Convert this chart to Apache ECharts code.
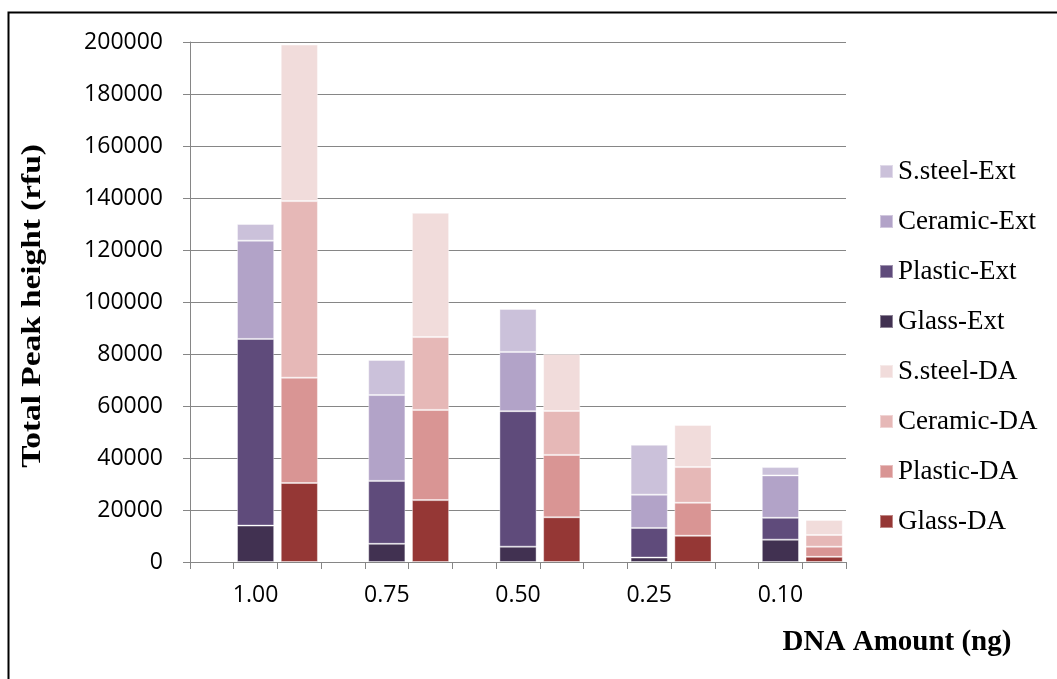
<!DOCTYPE html>
<html>
<head>
<meta charset="utf-8">
<script src="https://cdn.jsdelivr.net/npm/echarts@6/dist/echarts.min.js"></script>
<style>
html,body{margin:0;padding:0;background:#fff;}
#chart{width:1057px;height:679px;}
</style>
</head>
<body>
<div id="chart"></div>
<script>
// Category slots (blank slot, Ext bar, DA bar per DNA amount)
var categories = ['', '1.00', '', '', '0.75', '', '', '0.50', '', '', '0.25', '', '', '0.10', ''];
var dnaAmounts = ['1.00', '0.75', '0.50', '0.25', '0.10'];
var extSlots = [1, 4, 7, 10, 13];
var daSlots = [2, 5, 8, 11, 14];
var yTicks = [0, 20000, 40000, 60000, 80000, 100000, 120000, 140000, 160000, 180000, 200000];

// Values per DNA amount (1.00, 0.75, 0.50, 0.25, 0.10)
var glassExt   = [14000, 7000, 5900, 1700, 8600];
var plasticExt = [71800, 24200, 52100, 11400, 8400];
var ceramicExt = [37800, 33000, 22800, 12800, 16300];
var steelExt   = [6400, 13500, 16500, 19200, 3200];
var glassDA    = [30400, 23800, 17200, 10100, 2000];
var plasticDA  = [40500, 34700, 24000, 12700, 3900];
var ceramicDA  = [67900, 28000, 16900, 13700, 4500];
var steelDA    = [60200, 47800, 21900, 16200, 5800];

function place(values, slots) {
  var arr = categories.map(function () { return '-'; });
  slots.forEach(function (s, i) { arr[s] = values[i]; });
  return arr;
}

var seriesDefs = [
  {name: 'Glass-Ext', vals: glassExt, slots: extSlots, color: '#413151'},
  {name: 'Plastic-Ext', vals: plasticExt, slots: extSlots, color: '#5F4B7B'},
  {name: 'Ceramic-Ext', vals: ceramicExt, slots: extSlots, color: '#B2A3C8'},
  {name: 'S.steel-Ext', vals: steelExt, slots: extSlots, color: '#CBC1DA'},
  {name: 'Glass-DA', vals: glassDA, slots: daSlots, color: '#953735'},
  {name: 'Plastic-DA', vals: plasticDA, slots: daSlots, color: '#D99594'},
  {name: 'Ceramic-DA', vals: ceramicDA, slots: daSlots, color: '#E6B8B7'},
  {name: 'S.steel-DA', vals: steelDA, slots: daSlots, color: '#F1DCDB'}
];

var series = seriesDefs.map(function (d) {
  return {
    name: d.name,
    type: 'bar',
    stack: 'total',
    data: place(d.vals, d.slots),
    barCategoryGap: '15%',
    itemStyle: {color: d.color, borderColor: 'rgba(255,255,255,0.4)', borderWidth: 1},
    emphasis: {disabled: true}
  };
});

var chart = echarts.init(document.getElementById('chart'), null, {renderer: 'canvas'});
chart.setOption({
  animation: false,
  backgroundColor: '#ffffff',
  grid: {left: 190, right: 211, top: 42, bottom: 117, containLabel: false},
  legend: {
    orient: 'vertical',
    left: 879,
    top: 158,
    padding: 0,
    itemWidth: 13,
    itemHeight: 13,
    itemGap: 23,
    data: ['S.steel-Ext', 'Ceramic-Ext', 'Plastic-Ext', 'Glass-Ext', 'S.steel-DA', 'Ceramic-DA', 'Plastic-DA', 'Glass-DA'],
    textStyle: {fontFamily: 'Liberation Serif', fontSize: 27, color: '#000', lineHeight: 26},
    icon: 'rect'
  },
  xAxis: {
    type: 'category',
    data: categories,
    boundaryGap: true,
    axisLine: {lineStyle: {color: '#868686', width: 1}},
    axisTick: {show: true, interval: 0, alignWithLabel: false, length: 7, lineStyle: {color: '#868686'}},
    axisLabel: {interval: 0, margin: 22, fontFamily: 'Open Sans', fontSize: 23, color: '#000'}
  },
  yAxis: {
    type: 'value',
    min: yTicks[0],
    max: yTicks[yTicks.length - 1],
    interval: yTicks[1] - yTicks[0],
    axisLine: {show: true, lineStyle: {color: '#868686', width: 1}},
    axisTick: {show: true, length: 7, lineStyle: {color: '#868686'}},
    splitLine: {show: true, lineStyle: {color: '#868686', width: 1}},
    axisLabel: {margin: 27, fontFamily: 'Open Sans', fontSize: 23, color: '#000',
      formatter: function (v) { return String(v); }}
  },
  graphic: [
    {
      type: 'rect',
      shape: {x: 8.5, y: 12.5, width: 1100, height: 700},
      style: {fill: 'none', stroke: '#000', lineWidth: 2},
      silent: true
    },
    {
      type: 'text',
      x: 33, y: 306,
      rotation: Math.PI / 2,
      scaleX: 1.19,
      style: {text: 'Total Peak height (rfu)', font: 'bold 28px "Liberation Serif"', fill: '#000', textAlign: 'center', textVerticalAlign: 'middle'},
      silent: true
    },
    {
      type: 'text',
      x: 897, y: 643,
      style: {text: 'DNA Amount (ng)', font: 'bold 29px "Liberation Serif"', fill: '#000', textAlign: 'center', textVerticalAlign: 'middle'},
      silent: true
    }
  ],
  series: series
});
</script>
</body>
</html>
